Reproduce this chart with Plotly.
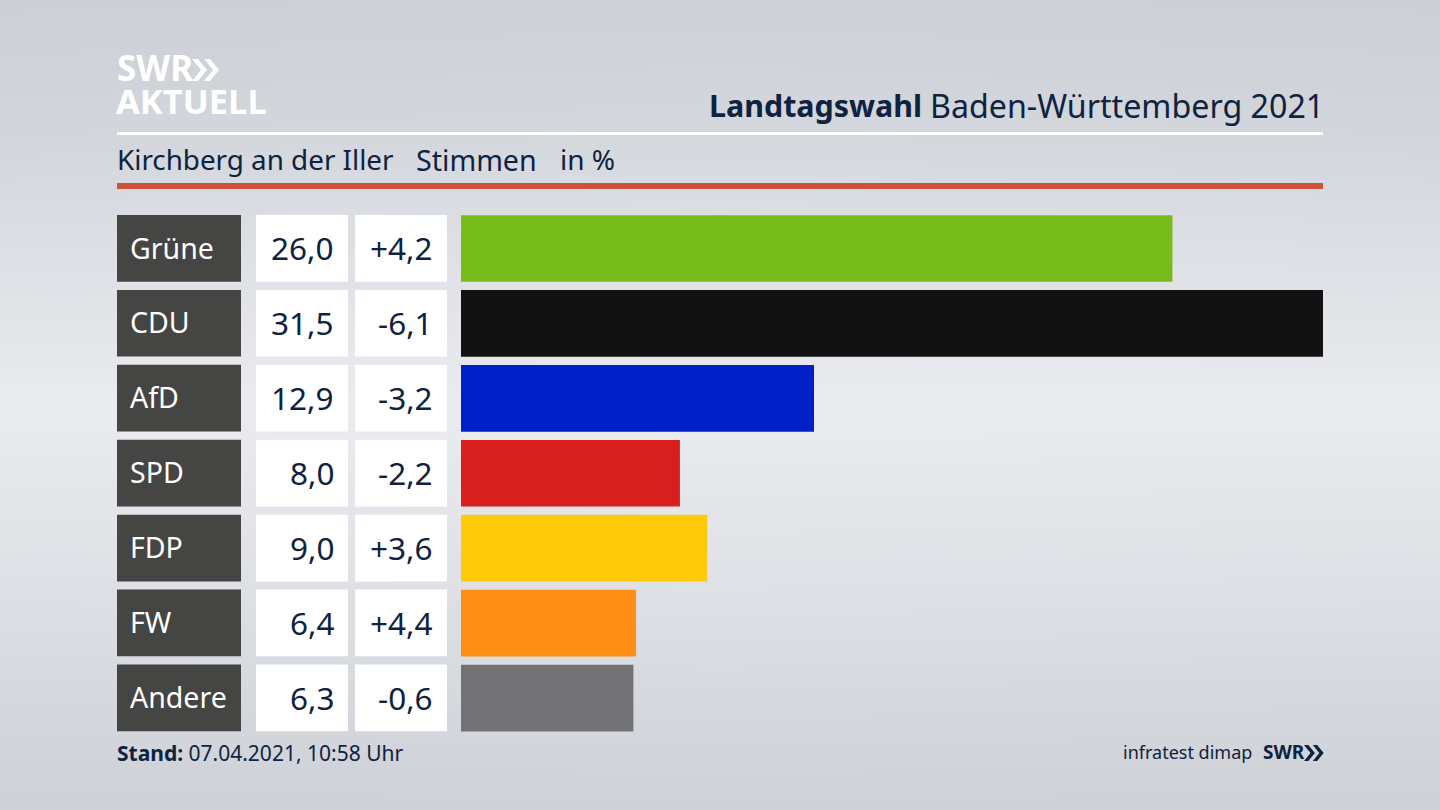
import plotly.graph_objects as go

parties = ["Grüne", "CDU", "AfD", "SPD", "FDP", "FW", "Andere"]
shares = [26.0, 31.5, 12.9, 8.0, 9.0, 6.4, 6.3]
share_labels = ["26,0", "31,5", "12,9", "8,0", "9,0", "6,4", "6,3"]
change_labels = ["+4,2", "-6,1", "-3,2", "-2,2", "+3,6", "+4,4", "-0,6"]
bar_colors = ["#78bc1b", "#121212", "#0021c8", "#d71f1d", "#ffcb09", "#ff8f14", "#727274"]

# background greys, top to bottom and left to right
bg_x = [0, 720, 1440]
bg_y = [0, 130, 270, 405, 540, 680, 810]
bg_z = [
    [204, 205, 204],
    [210, 212, 210],
    [222, 224, 222],
    [234, 234, 234],
    [225, 226, 225],
    [214, 215, 214],
    [205, 206, 205],
]

W, H = 1440, 810
FONT = "Noto Sans"
NAVY = "#0f2240"
ROW = 74.92


def px(x):
    return x / W


def py(y):
    return 1 - y / H


fig = go.Figure()

# gradient backdrop on the full page axes, the bars sit on the second pair above it
fig.add_trace(go.Heatmap(
    x=bg_x, y=bg_y, z=bg_z,
    zsmooth="best", showscale=False, hoverinfo="skip", zmin=200, zmax=240,
    colorscale=[[0, "rgb(200,204,210)"], [1, "rgb(240,241,245)"]],
))

fig.add_trace(go.Bar(
    x=shares, y=parties, orientation="h", width=0.89, xaxis="x2", yaxis="y2",
    marker=dict(color=bar_colors, line_width=0),
    hoverinfo="skip",
))

shapes = []
annotations = []


def rect(x0, x1, y0, y1, color):
    shapes.append(dict(type="rect", xref="paper", yref="paper",
                       x0=px(x0), x1=px(x1), y0=py(y1), y1=py(y0),
                       fillcolor=color, line_width=0, layer="above"))


def text(x, y, s, size, color=NAVY, anchor="left"):
    annotations.append(dict(xref="paper", yref="paper", x=px(x), y=py(y), text=s,
                            showarrow=False, xanchor=anchor, yanchor="middle",
                            borderpad=0, borderwidth=0,
                            font=dict(family=FONT, size=size, color=color)))


def chevrons(x, y, h, color):
    # two >> marks of the SWR logo
    w = h * 0.41
    t = h * 0.27
    path = ""
    for dx in (0, h * 0.55):
        x0 = x + dx
        pts = [(x0, y), (x0 + t, y), (x0 + t + w, y + h / 2), (x0 + t, y + h), (x0, y + h), (x0 + w, y + h / 2)]
        path += "M" + " L".join(f"{px(a):.5f},{py(b):.5f}" for a, b in pts) + " Z "
    shapes.append(dict(type="path", xref="paper", yref="paper", path=path,
                       fillcolor=color, line_width=0, layer="above"))


# rules under the header
rect(117, 1323, 132, 135, "#ffffff")
rect(117, 1323, 183, 189, "#cc5239")

# table cells next to the bars
for i, party in enumerate(parties):
    top = 215 + ROW * i
    rect(117, 241, top, top + 66.7, "#454543")
    rect(256, 348, top, top + 66.7, "#ffffff")
    rect(355, 447, top, top + 66.7, "#ffffff")
    mid = top + 32.5
    text(130, mid, party, 28.5, "#ffffff")
    text(333.5, mid, share_labels[i], 31.5, NAVY, "right")
    text(433, mid, change_labels[i], 31.5, NAVY, "right")

# header and footer
text(117, 68, "<b>SWR</b>", 35, "#ffffff")
chevrons(192, 59, 22, "#ffffff")
text(116, 101, "<b>AKTUELL</b>", 34.5, "#ffffff")
text(709, 105, "<b>Landtagswahl</b>", 30.4)
text(1324, 105, "Baden-Württemberg 2021", 32.2, NAVY, "right")
text(117, 159, "Kirchberg an der Iller", 27.8)
text(416, 159, "Stimmen", 28.6)
text(560, 159, "in %", 28)
text(117, 753, "<b>Stand:</b> 07.04.2021, 10:58 Uhr", 21)
text(1252, 752, "infratest dimap", 18, NAVY, "right")
text(1263, 752, "<b>SWR</b>", 19)
chevrons(1304, 745, 16, NAVY)

fig.update_layout(
    width=W, height=H, margin=dict(l=0, r=0, t=0, b=0),
    paper_bgcolor="#dfe1e6", plot_bgcolor="rgba(0,0,0,0)",
    showlegend=False, shapes=shapes, annotations=annotations,
    xaxis=dict(domain=[0, 1], range=[0, W], visible=False, fixedrange=True),
    yaxis=dict(domain=[0, 1], range=[H, 0], visible=False, fixedrange=True),
    xaxis2=dict(domain=[px(461), px(1323)], range=[0, 31.5], visible=False, anchor="y2", fixedrange=True),
    yaxis2=dict(domain=[py(735.5), py(211.04)], range=[6.5, -0.5], visible=False, anchor="x2", fixedrange=True,
                type="category", categoryorder="array", categoryarray=parties),
)

fig.write_html("out.html", config=dict(displayModeBar=False),
               post_script="document.body.style.margin='0';")
